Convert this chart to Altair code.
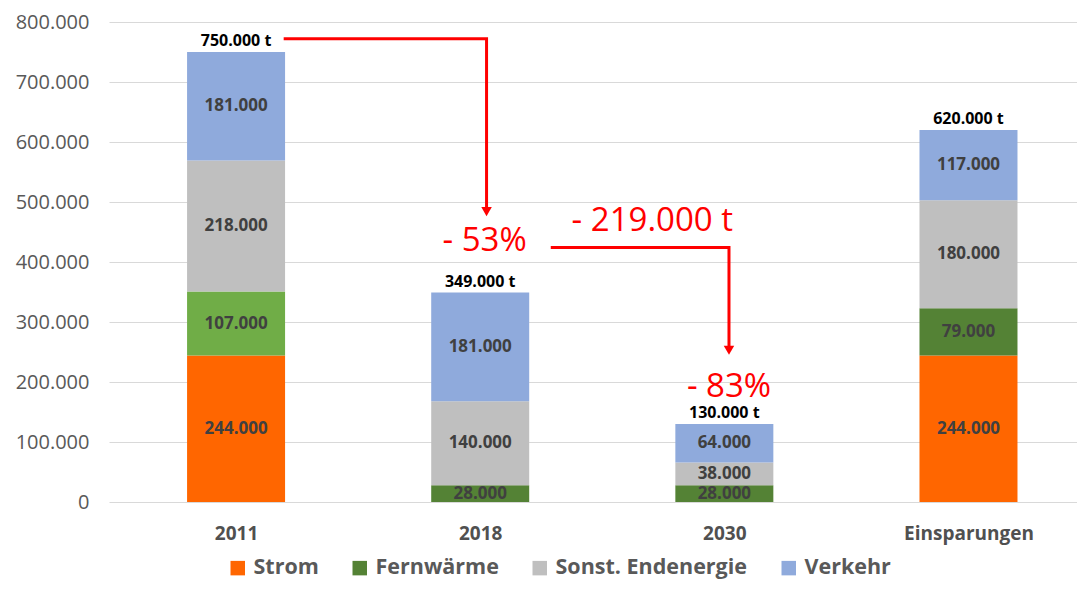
import altair as alt
import pandas as pd

# ---- data ----
jahre = ["2011", "2018", "2030", "Einsparungen"]
sektoren = ["Strom", "Fernwärme", "Sonst. Endenergie", "Verkehr"]
strom = [244000, 0, 0, 244000]
fernwaerme = [107000, 28000, 28000, 79000]
sonst = [218000, 140000, 38000, 180000]
verkehr = [181000, 181000, 64000, 117000]
farben = ["#FF6600", "#548235", "#BFBFBF", "#8FAADC"]
hellgruen = "#70AD47"

# annotation texts
anno_text = ["- 53%", "- 219.000 t", "- 83%"]
anno_x = [1.018, 1.705, 2.019]
anno_y = [435000, 469000, 192000]

# arrow paths (data coordinates)
arrow_id = [1, 1, 1, 2, 2, 2]
arrow_ord = [0, 1, 2, 0, 1, 2]
arrow_x = [0.195, 1.026, 1.026, 1.289, 2.019, 2.019]
arrow_y = [772000, 772000, 488000, 424000, 424000, 258000]
head_x = [1.026, 2.019]
head_y = [484000, 253000]

rows = []
series = [strom, fernwaerme, sonst, verkehr]
for i, j in enumerate(jahre):
    for k, s in enumerate(sektoren):
        v = series[k][i]
        if v > 0:
            rows.append({"pos": i, "Jahr": j, "Sektor": s, "ord": k, "Wert": v})
df = pd.DataFrame(rows)

tot = pd.DataFrame({
    "pos": list(range(len(jahre))),
    "total": [strom[i] + fernwaerme[i] + sonst[i] + verkehr[i] for i in range(len(jahre))],
})

anno = pd.DataFrame({"x": anno_x, "y": anno_y, "t": anno_text})
arrows = pd.DataFrame({"id": arrow_id, "o": arrow_ord, "x": arrow_x, "y": arrow_y})
heads = pd.DataFrame({"x": head_x, "y": head_y})

FONT = "Open Sans"
xscale = alt.Scale(domain=[-0.5, 3.424], nice=False, zero=False)
yscale = alt.Scale(domain=[0, 800000], nice=False)

label_expr = "['2011','2018','2030','Einsparungen'][datum.value]"

base = alt.Chart(df).transform_stack(
    stack="Wert", groupby=["pos"], sort=[alt.SortField("ord")], as_=["y0", "y1"]
).transform_calculate(mid="(datum.y0 + datum.y1) / 2",
                      lab="replace(format(datum.Wert, ','), ',', '.')")

bars = base.mark_bar(size=98).encode(
    x=alt.X("pos:Q", scale=xscale,
            axis=alt.Axis(values=[0, 1, 2, 3], labelExpr=label_expr, title=None,
                          grid=False, domain=False, ticks=False, labelPadding=22,
                          labelFontSize=19, labelFontWeight="bold", labelColor="#505050",
                          labelFont=FONT)),
    y=alt.Y("y0:Q", scale=yscale,
            axis=alt.Axis(values=list(range(0, 800001, 100000)), title=None,
                          labelExpr="replace(format(datum.value, ','), ',', '.')",
                          domain=False, ticks=False, gridColor="#D9D9D9", labelPadding=20,
                          labelFontSize=20, labelColor="#595959", labelFont=FONT)),
    y2="y1:Q",
    color=alt.condition(
        "datum.Jahr == '2011' && datum.Sektor == 'Fernwärme'",
        alt.value(hellgruen),
        alt.Color("Sektor:N", scale=alt.Scale(domain=sektoren, range=farben),
                  sort=sektoren,
                  legend=alt.Legend(title=None, orient="none", direction="horizontal",
                                    legendX=118, legendY=535, symbolType="square",
                                    symbolSize=210, symbolStrokeWidth=0,
                                    labelFontSize=21.5, labelFont=FONT, labelFontWeight="bold",
                                    labelColor="#595959", columnPadding=30, labelOffset=5,
                                    labelLimit=0)),
    ),
)

seglabels = base.mark_text(font=FONT, fontSize=17, fontWeight="bold", color="#404040",
                           baseline="middle").encode(
    x=alt.X("pos:Q", scale=xscale),
    y=alt.Y("mid:Q", scale=yscale),
    text="lab:N",
)

totals = alt.Chart(tot).transform_calculate(
    lab="replace(format(datum.total, ','), ',', '.') + ' t'"
).mark_text(font=FONT, fontSize=16, fontWeight="bold", color="#000000",
            baseline="bottom", dy=-3).encode(
    x=alt.X("pos:Q", scale=xscale),
    y=alt.Y("total:Q", scale=yscale),
    text="lab:N",
)

lines = alt.Chart(arrows).mark_line(color="#FF0000", strokeWidth=3,
                                    strokeCap="butt", strokeJoin="miter").encode(
    x=alt.X("x:Q", scale=xscale),
    y=alt.Y("y:Q", scale=yscale),
    detail="id:N",
    order="o:Q",
)

arrowheads = alt.Chart(heads).mark_point(shape="triangle-down", filled=True,
                                         color="#FF0000", size=110, opacity=1).encode(
    x=alt.X("x:Q", scale=xscale),
    y=alt.Y("y:Q", scale=yscale),
)

texts = alt.Chart(anno).mark_text(font=FONT, fontSize=33, color="#FF0000",
                                  baseline="middle").encode(
    x=alt.X("x:Q", scale=xscale),
    y=alt.Y("y:Q", scale=yscale),
    text="t:N",
)

chart = alt.layer(bars, seglabels, totals, lines, arrowheads, texts).properties(
    width=968, height=480,
    autosize=alt.AutoSizeParams(type="none"),
    padding={"left": 101, "top": 14, "right": 0, "bottom": 78},
).configure_view(stroke=None)

chart.save("out.html", embed_options={"renderer": "svg", "actions": False})
